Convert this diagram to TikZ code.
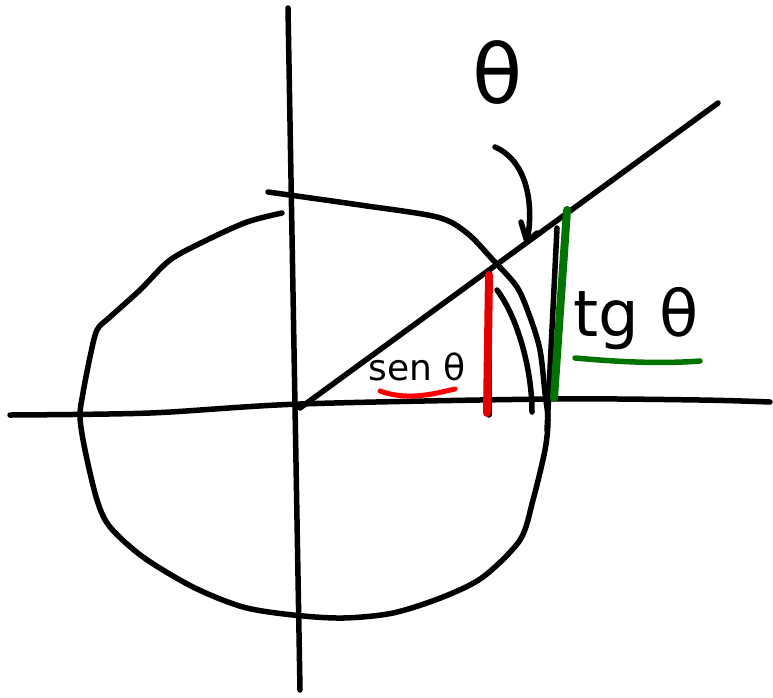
\documentclass[tikz,border=0pt]{standalone}
\usepackage{fontspec}
\newfontfamily\lab{DejaVu Sans}
\usetikzlibrary{arrows.meta}
\tikzset{
  ink/.style={line width=5.5pt, line cap=round, line join=round, black},
  redink/.style={line width=8pt, line cap=round, red!90!black},
  greenink/.style={line width=8pt, line cap=round, green!45!black},
  hand/.style={inner sep=0pt, anchor=base}
}
\begin{document}
\begin{tikzpicture}[x=1pt,y=-1pt]
\useasboundingbox (0,0) rectangle (773,697);
% axes
\coordinate (yt) at (288,8);
\coordinate (yb) at (300,690);
\draw[ink] plot[smooth, tension=0.5] coordinates {(10,415) (150,413) (300,404) (550,399) (700,400) (770,402)};
\draw[ink] (yt) -- (yb);
% circle (hand drawn)
\draw[ink] plot[smooth, tension=0.5] coordinates {
 (268,192) (360,205) (437,217) (467,233) (493,260) (517,287) (530,317) (540,350)
 (545,393) (548,420) (545,450) (533,500) (520,540) (483,577) (443,597) (393,613)
 (343,618) (293,615) (243,607) (193,587) (143,557) (110,527) (97,500) (85,450)
 (80,417) (83,393) (90,357) (97,330) (110,317) (140,290) (170,260) (207,240)
 (247,222) (282,213)};
% ray
\coordinate (O) at (300,408);
\coordinate (R) at (718,103);
\draw[ink] (O) -- (R);
% inner arc
\draw[ink] (497,290) .. controls (518,318) and (532,370) .. (532,412);
% sine segment
\draw[ink] (489,285) -- (489,415);
\draw[redink] (489,275) -- (487,413);
% tangent segment
\draw[ink] (557,228) -- (547,430);
\draw[greenink] (567,210) -- (554,398);
% theta label and arrow
\node[hand, font=\lab\fontsize{82}{90}\selectfont] (th) at (498,103) {θ};
\coordinate (as) at (495,147);
\coordinate (ae) at (527,242);
\draw[ink] (as) .. controls (525,160) and (535,200) .. (ae);
\draw[ink] (521,222) -- (ae) -- (537,233);
% labels
\node[hand, font=\lab\fontsize{36}{42}\selectfont] (sen) at (417,380) {sen θ};
\draw[line width=5pt, line cap=round, red] (380,391) .. controls (410,402) and (440,392) .. (455,389);
\node[hand, font=\lab\fontsize{64}{72}\selectfont] (tg) at (636,336) {tg θ};
\draw[line width=5.5pt, line cap=round, green!45!black] (575,358) .. controls (620,362) and (660,364) .. (700,361);
\end{tikzpicture}
\end{document}
